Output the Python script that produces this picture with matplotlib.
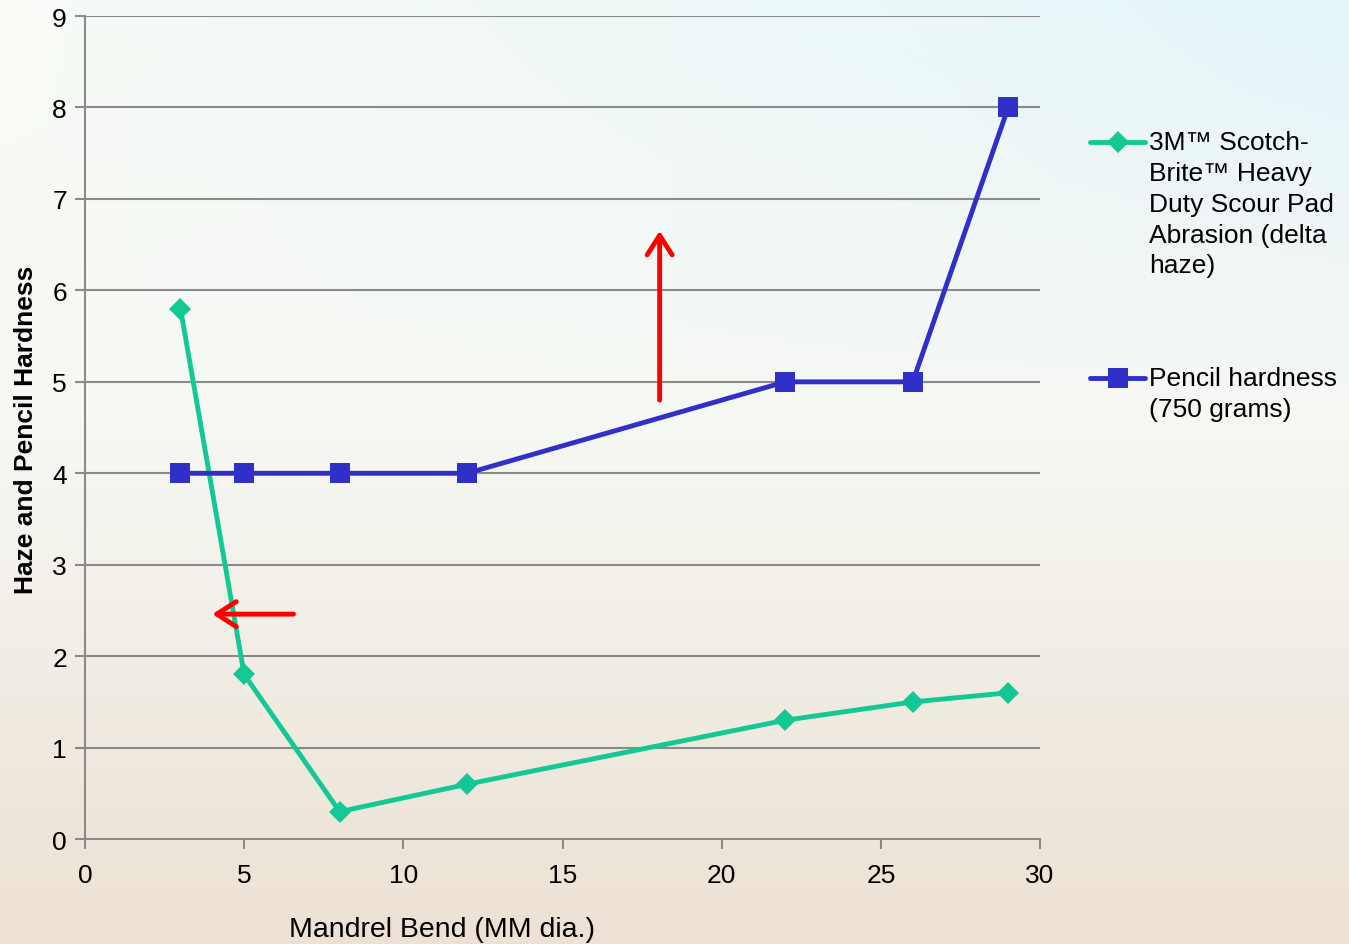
import numpy as np
import matplotlib.pyplot as plt
from matplotlib.lines import Line2D

plt.rcParams['font.family'] = ['Liberation Sans', 'DejaVu Sans']

# mandrel diameters (mm)
mandrel = [3, 5, 8, 12, 22, 26, 29]
delta_haze = [5.8, 1.8, 0.3, 0.6, 1.3, 1.5, 1.6]
pencil_hardness = [4, 4, 4, 4, 5, 5, 8]

haze_label = "3M\u2122 Scotch-\nBrite\u2122 Heavy\nDuty Scour Pad\nAbrasion (delta\nhaze)"
pencil_label = "Pencil hardness\n(750 grams)"

x_ticks = [0, 5, 10, 15, 20, 25, 30]
y_ticks = list(range(0, 10))

# red callout arrows: (x_from, y_from, x_to, y_to)
arrow_up = (18.05, 4.8, 18.05, 6.65)
arrow_left = (6.55, 2.46, 4.0, 2.46)

green = '#14C896'
blue = '#3030C8'
grid_col = '#8A8A8A'

fig = plt.figure(figsize=(13.49, 9.45), dpi=100)

# soft backdrop: cool white at the top fading to warm beige at the bottom
bg = fig.add_axes([0, 0, 1, 1], zorder=-10)
h, w = 200, 300
yy = np.linspace(0, 1, h)
xx = np.linspace(0, 1, w)[:, None]
top_l = np.array([248, 251, 246]) / 255
top_r = np.array([228, 245, 250]) / 255
mid = np.array([246, 248, 243]) / 255
bot = np.array([236, 225, 212]) / 255
upper = top_l * (1 - xx) + top_r * xx
img = np.empty((h, w, 3))
for i, f in enumerate(yy):
    if f < 0.45:
        img[i] = upper * (1 - f / 0.45) + mid * (f / 0.45)
    else:
        g = (f - 0.45) / 0.55
        img[i] = mid * (1 - g) + bot * g
bg.imshow(img, aspect='auto', extent=[0, 1, 1, 0], interpolation='bicubic')
bg.axis('off')

ax = fig.add_axes([0.063, 0.111, 0.708, 0.871])
ax.set_facecolor('none')

ax.plot(mandrel, delta_haze, color=green, lw=3.5, marker='D', ms=11,
        markeredgewidth=0, zorder=3)
ax.plot(mandrel, pencil_hardness, color=blue, lw=3.5, marker='s', ms=14.5,
        markeredgewidth=0, zorder=3)

for x0, y0, x1, y1 in (arrow_up, arrow_left):
    ax.annotate('', xy=(x1, y1), xytext=(x0, y0),
                arrowprops=dict(arrowstyle='->,head_length=0.7,head_width=0.45',
                                mutation_scale=20, color='#FF0000', lw=3.5,
                                shrinkA=0, shrinkB=0), zorder=4)

ax.set_xlim(0, 30)
ax.set_ylim(0, 9)
ax.set_xticks(x_ticks)
ax.set_yticks(y_ticks)
ax.tick_params(axis='both', labelsize=19, colors=grid_col, labelcolor='black',
               length=7, width=1.5, direction='out', pad=6)
ax.tick_params(axis='x', pad=10)
ax.yaxis.grid(True, color=grid_col, lw=1.5)
ax.set_axisbelow(True)
for side in ('top', 'right'):
    ax.spines[side].set_visible(False)
for side in ('left', 'bottom'):
    ax.spines[side].set_color(grid_col)
    ax.spines[side].set_linewidth(1.5)

fig.text(0.0195, 0.545, 'Haze and Pencil Hardness', rotation=90, fontsize=19,
         fontweight='bold', ha='center', va='center')
fig.text(0.328, 0.016, 'Mandrel Bend (MM dia.)', fontsize=20.5,
         ha='center', va='center')

# legend drawn by hand so the handles sit level with the first text line
def legend_entry(y_px, color, marker, ms, label):
    yf = 1 - y_px / 945
    fig.add_artist(Line2D([1090 / 1349, 1145 / 1349], [yf, yf], color=color,
                          lw=3.5, solid_capstyle='round'))
    fig.add_artist(Line2D([1117.5 / 1349], [yf], color=color, marker=marker,
                          ms=ms, markeredgewidth=0, lw=0))
    fig.text(1149 / 1349, 1 - (y_px - 12) / 945, label, fontsize=19,
             ha='left', va='top', linespacing=1.36)

legend_entry(143, green, 'D', 11, haze_label)
legend_entry(379, blue, 's', 14.5, pencil_label)

fig.savefig('out.png', dpi=100)
